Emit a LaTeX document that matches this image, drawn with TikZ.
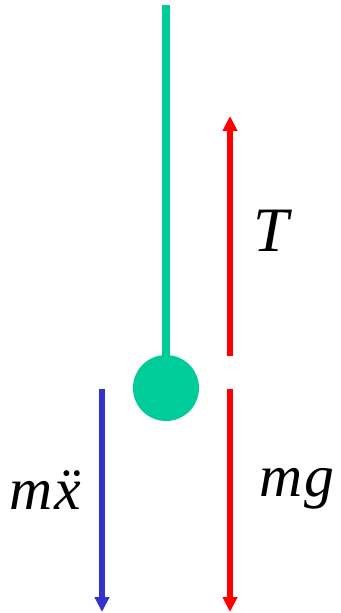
\documentclass[tikz,border=0pt]{standalone}
\usepackage{fontspec}
\setmainfont{Liberation Serif}
\usetikzlibrary{arrows.meta,positioning}
\definecolor{BobGreen}{HTML}{00CC99}
\definecolor{ForceRed}{HTML}{FF0000}
\definecolor{InertiaBlue}{HTML}{3333CC}

\begin{document}
\begin{tikzpicture}[
    x=0.02cm, y=-0.02cm,
    forca/.style={line width=3.1pt, -{Triangle[length=8.5pt, width=8pt]}},
    rotulo/.style={font=\itshape\fontsize{34}{34}\selectfont, inner sep=0pt, anchor=base west}
]

  % Moldura
  \useasboundingbox (0, 0) rectangle (341, 613);

  % =========================================================================
  % PENDULO: FIO E MASSA
  % =========================================================================
  \coordinate (suporte) at (166, 5);
  \node[circle, fill=BobGreen, minimum size=1.32cm, inner sep=0pt] (massa) at (166, 388) {};
  \draw[line width=4pt, color=BobGreen] (suporte) -- (massa.north);

  % =========================================================================
  % FORCAS
  % =========================================================================
  % Tracao
  \coordinate (t_ini) at (230, 356);
  \coordinate (t_fim) at (230, 116);
  \draw[forca, color=ForceRed] (t_ini) -- (t_fim);
  \node[rotulo, font=\itshape\fontsize{36}{36}\selectfont] (lbl_t) at (253, 251) {T};

  % Peso
  \coordinate (p_ini) at (230, 389);
  \coordinate (p_fim) at (230, 612);
  \draw[forca, color=ForceRed] (p_ini) -- (p_fim);
  \node[rotulo] (lbl_p) at (259, 496) {m\kern1pt g};

  % Inercia
  \coordinate (i_ini) at (102, 389);
  \coordinate (i_fim) at (102, 612);
  \draw[forca, line width=2.9pt, color=InertiaBlue] (i_ini) -- (i_fim);
  \node[rotulo] (lbl_i) at (9, 509) {m\kern1pt\"{x}};

\end{tikzpicture}
\end{document}
